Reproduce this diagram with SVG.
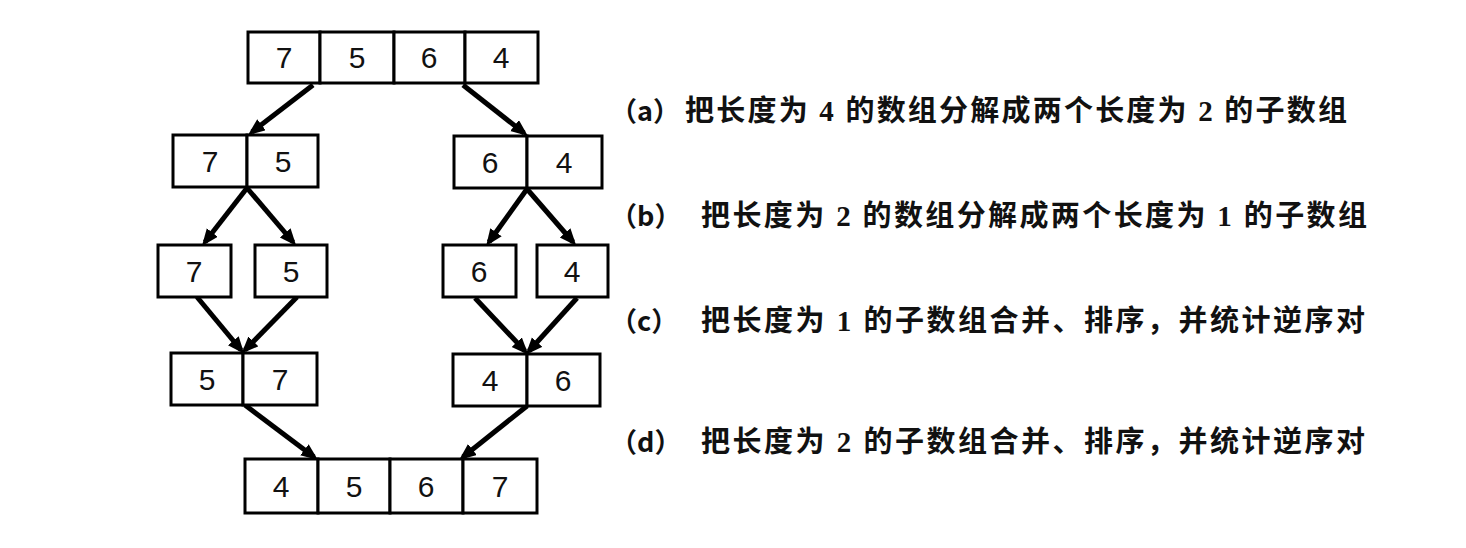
<svg xmlns="http://www.w3.org/2000/svg" width="1466" height="548" viewBox="0 0 1466 548">
<style>
.box{fill:#fff;stroke:#000;stroke-width:3}
.num{font-family:"Liberation Sans","DejaVu Sans",sans-serif;font-size:30px;text-anchor:middle;fill:#111}
.arr{stroke:#000;stroke-width:5;fill:none;marker-end:url(#ah)}
.lbl{font-family:"Liberation Serif","Noto Sans CJK SC",serif;font-size:29px;font-weight:600;fill:#111}
.par{font-family:"Noto Sans CJK SC","Liberation Serif",sans-serif;font-size:27px;font-weight:600;fill:#111}
</style>
<defs>
<marker id="ah" markerUnits="userSpaceOnUse" markerWidth="18" markerHeight="16" refX="12" refY="7" orient="auto">
<path d="M0,0 L17,7 L0,14 z" fill="#000"/>
</marker>
</defs>
<rect width="1466" height="548" fill="#fff"/>
<g id="connectors">
<line class="arr" x1="313" y1="85" x2="252" y2="132"/>
<line class="arr" x1="463" y1="85" x2="524" y2="133"/>
<line class="arr" x1="247" y1="188" x2="205" y2="242"/>
<line class="arr" x1="247" y1="188" x2="293" y2="242"/>
<line class="arr" x1="527" y1="189" x2="489" y2="242"/>
<line class="arr" x1="527" y1="189" x2="573" y2="242"/>
<line class="arr" x1="197" y1="297" x2="241" y2="350"/>
<line class="arr" x1="297" y1="297" x2="245" y2="350"/>
<line class="arr" x1="475" y1="298" x2="525" y2="351"/>
<line class="arr" x1="577" y1="298" x2="529" y2="351"/>
<line class="arr" x1="245" y1="405" x2="314" y2="457"/>
<line class="arr" x1="527" y1="406" x2="463" y2="457"/>
</g>
<g id="n_7564">
<rect class="box" x="248" y="32" width="72" height="51"/>
<rect class="box" x="320" y="32" width="74" height="51"/>
<rect class="box" x="394" y="32" width="71" height="51"/>
<rect class="box" x="465" y="32" width="73" height="51"/>
<text class="num" x="284" y="68">7</text>
<text class="num" x="357" y="68">5</text>
<text class="num" x="429" y="68">6</text>
<text class="num" x="501" y="68">4</text>
</g>
<g id="n_75">
<rect class="box" x="173" y="135" width="74" height="52"/>
<rect class="box" x="247" y="135" width="71" height="52"/>
<text class="num" x="210" y="172">7</text>
<text class="num" x="283" y="172">5</text>
</g>
<g id="n_64">
<rect class="box" x="454" y="136" width="73" height="52"/>
<rect class="box" x="527" y="136" width="75" height="52"/>
<text class="num" x="490" y="173">6</text>
<text class="num" x="564" y="173">4</text>
</g>
<g id="n_7">
<rect class="box" x="158" y="245" width="73" height="52"/>
<text class="num" x="194" y="282">7</text>
</g>
<g id="n_5">
<rect class="box" x="255" y="245" width="72" height="52"/>
<text class="num" x="291" y="282">5</text>
</g>
<g id="n_6">
<rect class="box" x="443" y="245" width="73" height="52"/>
<text class="num" x="479" y="282">6</text>
</g>
<g id="n_4">
<rect class="box" x="537" y="245" width="71" height="52"/>
<text class="num" x="572" y="282">4</text>
</g>
<g id="n_57">
<rect class="box" x="171" y="353" width="72" height="52"/>
<rect class="box" x="243" y="353" width="74" height="52"/>
<text class="num" x="207" y="390">5</text>
<text class="num" x="280" y="390">7</text>
</g>
<g id="n_46">
<rect class="box" x="453" y="354" width="74" height="52"/>
<rect class="box" x="527" y="354" width="73" height="52"/>
<text class="num" x="490" y="391">4</text>
<text class="num" x="563" y="391">6</text>
</g>
<g id="n_4567">
<rect class="box" x="245" y="459" width="73" height="54"/>
<rect class="box" x="318" y="459" width="72" height="54"/>
<rect class="box" x="390" y="459" width="73" height="54"/>
<rect class="box" x="463" y="459" width="74" height="54"/>
<text class="num" x="281" y="497">4</text>
<text class="num" x="354" y="497">5</text>
<text class="num" x="426" y="497">6</text>
<text class="num" x="500" y="497">7</text>
</g>
<g id="label_a">
<text class="par" x="610" y="121">（a）</text>
<text class="lbl" x="685" y="121" textLength="662" lengthAdjust="spacing">把长度为 4 的数组分解成两个长度为 2 的子数组</text>
</g>
<g id="label_b">
<text class="par" x="610" y="226">（b）</text>
<text class="lbl" x="701" y="226" textLength="666" lengthAdjust="spacing">把长度为 2 的数组分解成两个长度为 1 的子数组</text>
</g>
<g id="label_c">
<text class="par" x="610" y="331">（c）</text>
<text class="lbl" x="701" y="331" textLength="664" lengthAdjust="spacing">把长度为 1 的子数组合并、排序，并统计逆序对</text>
</g>
<g id="label_d">
<text class="par" x="610" y="452">（d）</text>
<text class="lbl" x="701" y="452" textLength="664" lengthAdjust="spacing">把长度为 2 的子数组合并、排序，并统计逆序对</text>
</g>
</svg>
